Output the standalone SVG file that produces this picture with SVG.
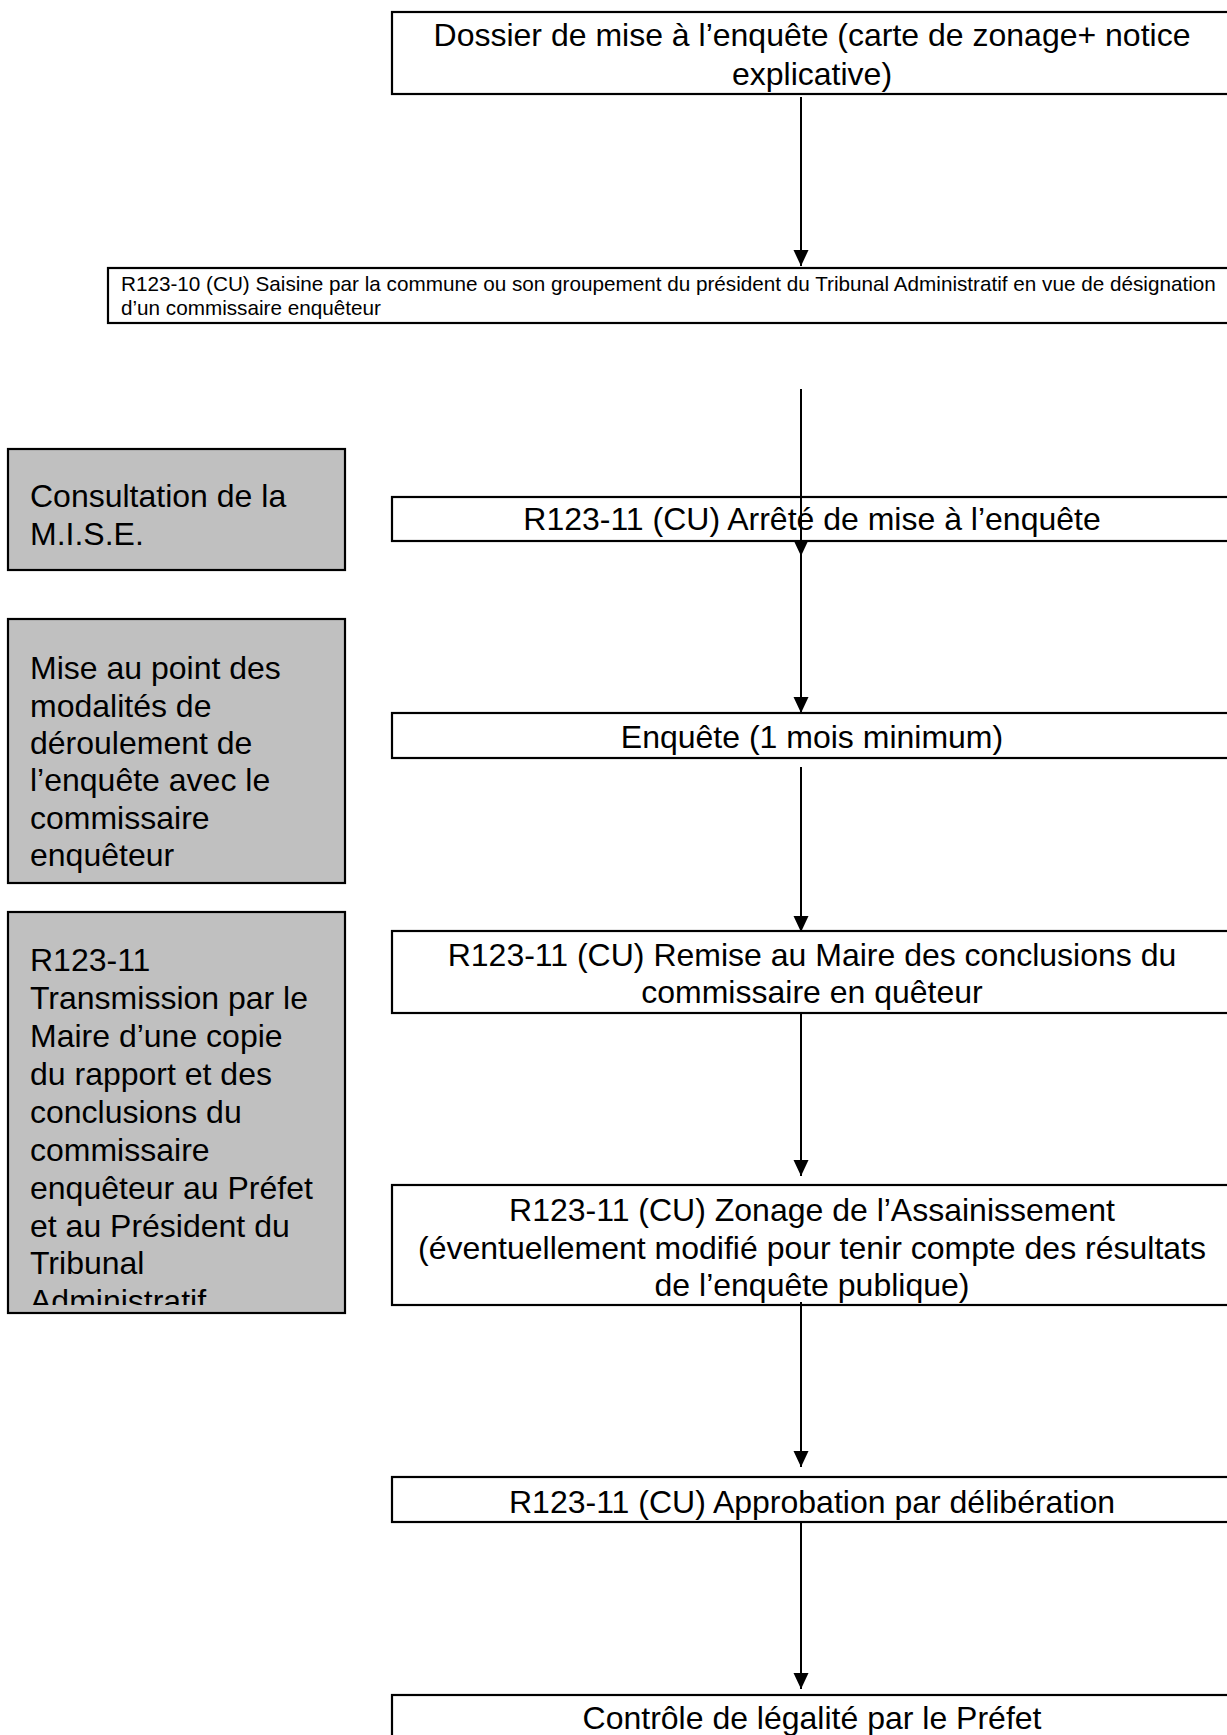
<svg xmlns="http://www.w3.org/2000/svg" width="1227" height="1735" viewBox="0 0 1227 1735">
<defs>
<style>
.box{fill:#ffffff;stroke:#000000;stroke-width:2.2}
.grey{fill:#c0c0c0;stroke:#000000;stroke-width:2.2}
.t{font-family:"Liberation Sans",Arial,sans-serif;font-size:32px;fill:#000000}
.c{text-anchor:middle}
.s{font-family:"Liberation Sans",Arial,sans-serif;font-size:20.7px;fill:#000000}
.conn{stroke:#000000;stroke-width:2;fill:none;marker-end:url(#arr)}
</style>
<marker id="arr" markerUnits="userSpaceOnUse" markerWidth="16" markerHeight="16" refX="16" refY="8" orient="auto" viewBox="0 0 16 16">
<path d="M0,0.5 L16,8 L0,15.5 z" fill="#000000"/>
</marker>
<clipPath id="clipG3"><rect x="9" y="913" width="335" height="392"/></clipPath>
</defs>
<rect width="1227" height="1735" fill="#ffffff"/>

<g id="n-dossier">
<rect class="box" x="392" y="12" width="842" height="82"/>
<text class="t c" x="812" y="46">Dossier de mise à l’enquête (carte de zonage+ notice</text>
<text class="t c" x="812" y="85">explicative)</text>
</g>

<g id="n-saisine">
<rect class="box" x="108" y="268" width="1130" height="55"/>
<text class="s" x="121" y="291">R123-10 (CU) Saisine par la commune ou son groupement du président du Tribunal Administratif en vue de désignation</text>
<text class="s" x="121" y="315">d’un commissaire enquêteur</text>
</g>

<g id="n-mise">
<rect class="grey" x="8" y="449" width="337" height="121"/>
<text class="t" x="30" y="507">Consultation de la</text>
<text class="t" x="30" y="545">M.I.S.E.</text>
</g>

<g id="n-arrete">
<rect class="box" x="392" y="497" width="842" height="44"/>
<text class="t c" x="812" y="530">R123-11 (CU) Arrêté de mise à l’enquête</text>
</g>

<g id="n-modalites">
<rect class="grey" x="8" y="619" width="337" height="264"/>
<text class="t" x="30" y="679">Mise au point des</text>
<text class="t" x="30" y="717">modalités de</text>
<text class="t" x="30" y="754">déroulement de</text>
<text class="t" x="30" y="791">l’enquête avec le</text>
<text class="t" x="30" y="829">commissaire</text>
<text class="t" x="30" y="866">enquêteur</text>
</g>

<g id="n-enquete">
<rect class="box" x="392" y="713" width="842" height="45"/>
<text class="t c" x="812" y="748">Enquête (1 mois minimum)</text>
</g>

<g id="n-transmission">
<rect class="grey" x="8" y="912" width="337" height="401"/>
<g clip-path="url(#clipG3)">
<text class="t" x="30" y="971">R123-11</text>
<text class="t" x="30" y="1009">Transmission par le</text>
<text class="t" x="30" y="1047">Maire d’une copie</text>
<text class="t" x="30" y="1085">du rapport et des</text>
<text class="t" x="30" y="1123">conclusions du</text>
<text class="t" x="30" y="1161">commissaire</text>
<text class="t" x="30" y="1199">enquêteur au Préfet</text>
<text class="t" x="30" y="1237">et au Président du</text>
<text class="t" x="30" y="1274">Tribunal</text>
<text class="t" x="30" y="1312">Administratif</text>
</g>
</g>

<g id="n-remise">
<rect class="box" x="392" y="931" width="842" height="82"/>
<text class="t c" x="812" y="966">R123-11 (CU) Remise au Maire des conclusions du</text>
<text class="t c" x="812" y="1003">commissaire en quêteur</text>
</g>

<g id="n-zonage">
<rect class="box" x="392" y="1185" width="842" height="120"/>
<text class="t c" x="812" y="1221">R123-11 (CU) Zonage de l’Assainissement</text>
<text class="t c" x="812" y="1259">(éventuellement modifié pour tenir compte des résultats</text>
<text class="t c" x="812" y="1296">de l’enquête publique)</text>
</g>

<g id="n-approbation">
<rect class="box" x="392" y="1477" width="842" height="45"/>
<text class="t c" x="812" y="1513">R123-11 (CU) Approbation par délibération</text>
</g>

<g id="n-controle">
<rect class="box" x="392" y="1695" width="842" height="60"/>
<text class="t c" x="812" y="1729">Contrôle de légalité par le Préfet</text>
</g>

<g id="connectors">
<line class="conn" x1="801" y1="97" x2="801" y2="266"/>
<line class="conn" x1="801" y1="389" x2="801" y2="556"/>
<line class="conn" x1="801" y1="541" x2="801" y2="713"/>
<line class="conn" x1="801" y1="767" x2="801" y2="932"/>
<line class="conn" x1="801" y1="1013" x2="801" y2="1176"/>
<line class="conn" x1="801" y1="1302" x2="801" y2="1467"/>
<line class="conn" x1="801" y1="1522" x2="801" y2="1689"/>
</g>
</svg>
